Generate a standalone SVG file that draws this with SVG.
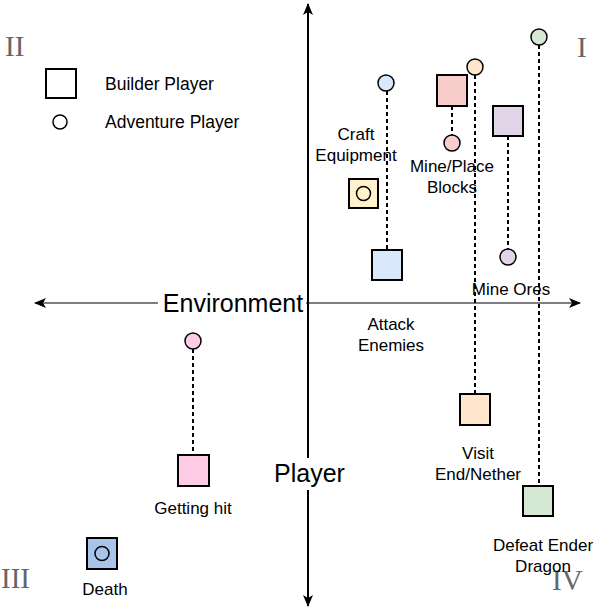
<svg xmlns="http://www.w3.org/2000/svg" width="598" height="608" viewBox="0 0 598 608">
<style>
.lbl{font-family:"Liberation Sans",Arial,sans-serif;font-size:17px;fill:#000;text-anchor:middle}
.leg{font-family:"Liberation Sans",Arial,sans-serif;font-size:17.5px;fill:#000}
.ax{font-family:"Liberation Sans",Arial,sans-serif;font-size:25px;fill:#000;text-anchor:middle}
.rom{font-family:"Liberation Serif","Times New Roman",serif;font-size:29px;fill:#666666}
.sq{stroke:#000;stroke-width:2}
.ci{stroke:#000;stroke-width:1.5}
.dash{stroke:#000;stroke-width:2;stroke-dasharray:4 3;fill:none}
</style>
<defs>
<marker id="arr" viewBox="0 0 12 10" refX="11" refY="5" markerWidth="12" markerHeight="10" markerUnits="userSpaceOnUse" orient="auto">
<path d="M0,0 L12,5 L0,10 L3,5 Z" fill="#000"/>
</marker>
</defs>
<rect width="598" height="608" fill="#fff"/>
<g id="axes">
<line x1="308" y1="303" x2="580" y2="303" stroke="#000" stroke-width="1.2" marker-end="url(#arr)"/>
<line x1="308" y1="303" x2="35" y2="303" stroke="#000" stroke-width="1.2" marker-end="url(#arr)"/>
<line x1="308" y1="303" x2="308" y2="4" stroke="#000" stroke-width="2" marker-end="url(#arr)"/>
<line x1="308" y1="303" x2="308" y2="606" stroke="#000" stroke-width="2" marker-end="url(#arr)"/>
</g>
<g id="connectors">
<line class="dash" x1="387" y1="91" x2="387" y2="250"/>
<line class="dash" x1="452" y1="106" x2="452" y2="135"/>
<line class="dash" x1="475" y1="75" x2="475" y2="394"/>
<line class="dash" x1="508" y1="136" x2="508" y2="249" stroke="#777" stroke-width="1.5"/>
<line class="dash" x1="539" y1="45" x2="539" y2="486"/>
<line class="dash" x1="193" y1="349" x2="193" y2="455" stroke-width="1"/>
</g>
<g id="axis-labels">
<rect x="158" y="290" width="148" height="26" fill="#fff"/>
<text class="ax" x="233" y="312">Environment</text>
<rect x="272" y="458" width="75" height="32" fill="#fff"/>
<text class="ax" x="309.5" y="482">Player</text>
</g>
<g id="quadrants">
<text class="rom" x="5" y="56">II</text>
<text class="rom" x="577" y="57">I</text>
<text class="rom" x="1" y="588">III</text>
<text class="rom" x="552" y="590">IV</text>
</g>
<g id="legend">
<rect class="sq" x="46" y="69" width="30" height="29" fill="#fff"/>
<text class="leg" x="105" y="90">Builder Player</text>
<circle class="ci" cx="60" cy="122" r="7" fill="#fff"/>
<text class="leg" x="105" y="128">Adventure Player</text>
</g>
<g id="craft-equipment">
<rect class="sq" x="349" y="179" width="29" height="29" fill="#fff2cc"/>
<circle class="ci" cx="363.5" cy="193.5" r="7" fill="#fff2cc"/>
<text class="lbl" x="356" y="140">Craft</text>
<text class="lbl" x="356" y="161">Equipment</text>
</g>
<g id="attack-enemies">
<circle class="ci" cx="386" cy="83" r="8" fill="#dae8fc"/>
<rect class="sq" x="372" y="250" width="30" height="30" fill="#dae8fc"/>
<text class="lbl" x="391" y="330">Attack</text>
<text class="lbl" x="391" y="351">Enemies</text>
</g>
<g id="mine-place-blocks">
<rect class="sq" x="437" y="75" width="30" height="31" fill="#f8cecc"/>
<circle class="ci" cx="452" cy="143" r="8" fill="#f8cecc"/>
<text class="lbl" x="452" y="172">Mine/Place</text>
<text class="lbl" x="452" y="193">Blocks</text>
</g>
<g id="visit-end-nether">
<circle class="ci" cx="475" cy="67" r="8" fill="#ffe6cc"/>
<rect class="sq" x="460" y="394" width="30" height="31" fill="#ffe6cc"/>
<text class="lbl" x="478" y="459">Visit</text>
<text class="lbl" x="478" y="480">End/Nether</text>
</g>
<g id="mine-ores">
<rect class="sq" x="493" y="106" width="30" height="30" fill="#e1d5e7"/>
<circle class="ci" cx="508" cy="257" r="8" fill="#e1d5e7"/>
<text class="lbl" x="511" y="295">Mine Ores</text>
</g>
<g id="defeat-ender-dragon">
<circle class="ci" cx="539" cy="37" r="8" fill="#d5e8d4"/>
<rect class="sq" x="523" y="486" width="30" height="30" fill="#d5e8d4"/>
<text class="lbl" x="543" y="551">Defeat Ender</text>
<text class="lbl" x="543" y="572">Dragon</text>
</g>
<g id="getting-hit">
<circle class="ci" cx="193" cy="341" r="8" fill="#ffcce6"/>
<rect class="sq" x="178" y="455" width="31" height="31" fill="#ffcce6"/>
<text class="lbl" x="193" y="514">Getting hit</text>
</g>
<g id="death">
<rect class="sq" x="87" y="538" width="30" height="31" fill="#a9c4eb"/>
<circle class="ci" cx="102" cy="553.5" r="7" fill="#a9c4eb"/>
<text class="lbl" x="105" y="595">Death</text>
</g>
</svg>
